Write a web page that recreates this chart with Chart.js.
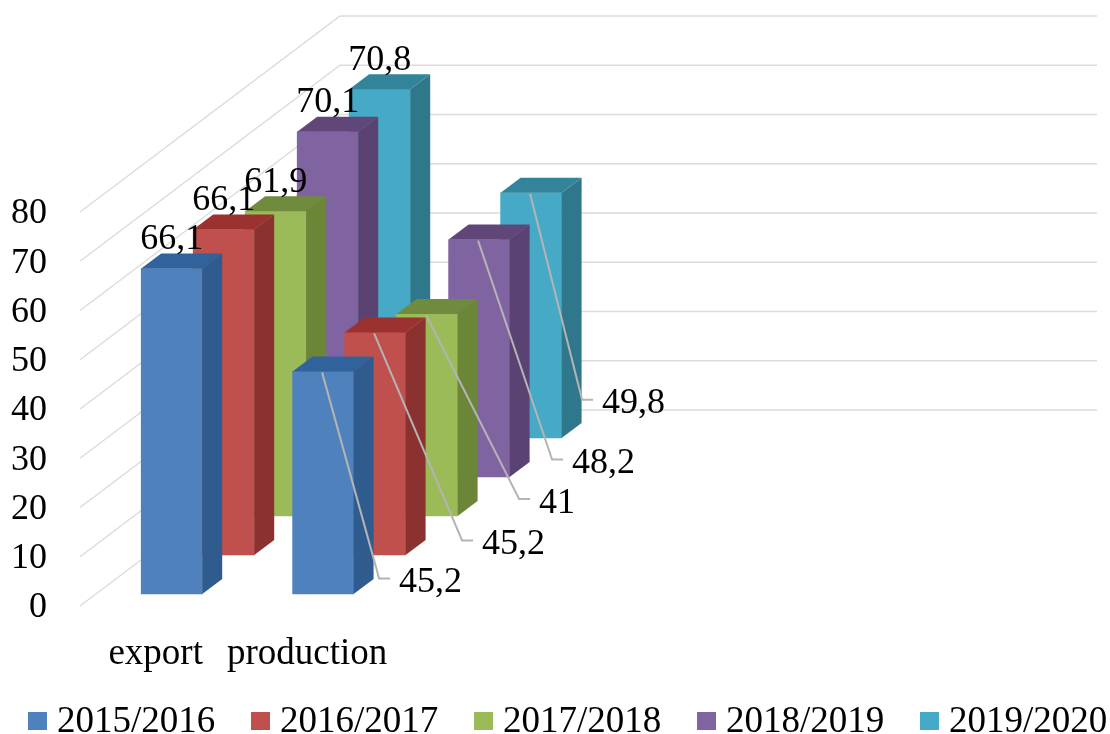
<!DOCTYPE html>
<html>
<head>
<meta charset="utf-8">
<title>export and production</title>
<script src="https://cdn.jsdelivr.net/npm/chart.js@4/dist/chart.umd.min.js"></script>
<style>
body { margin:0; background:#fff; }
#wrap { position:relative; width:1110px; height:734px; overflow:hidden; }
#legend { position:absolute; left:28px; top:699px; display:flex; font:37px "Liberation Serif",serif; line-height:42px; color:#000; }
#legend div { width:223px; display:flex; align-items:center; white-space:nowrap; }
#legend i { display:block; width:19px; height:18px; margin-right:10px; margin-top:2px; }
</style>
</head>
<body>
<div id="wrap">
<canvas id="chart" width="1110" height="734"></canvas>
<div id="legend"></div>
</div>
<script>
const categories = ['export','production','','',''];
const seriesNames = ['2015/2016','2016/2017','2017/2018','2018/2019','2019/2020'];

const values2015 = [66.1,45.2];
const values2016 = [66.1,45.2];
const values2017 = [61.9,41];
const values2018 = [70.1,48.2];
const values2019 = [70.8,49.8];
const seriesValues = [values2015,values2016,values2017,values2018,values2019];

const frontColors = ['#4f81bd','#c0504d','#9bbb59','#8064a2','#46aac6'];
const sideColors = ['#2f5b8e','#8b3231','#6c8638','#5a4272','#2f788c'];
const topColors = ['#30629b','#9c3230','#708a3e','#604679','#318499'];

// fake depth: every series sits further back on the floor
const stepX = 52, stepY = 39;
const startX = 16, startY = 12;
const depthX = 20, depthY = 15;
const wallX = 260, wallY = 196;

// production labels are pulled out with leader lines
const elbowX = [56,87,92,73,51];
const elbowY = [207,208,185,220,207];

const labelFont = '36px "Liberation Serif"';

function shiftX(i) { return startX + stepX*i; }
function shiftY(i) { return -(startY + stepY*i); }
function fmt(v) { return String(v).replace('.',','); }

const walls = {
    id:'walls',
    beforeDatasetsDraw(chart) {
        const ctx = chart.ctx, a = chart.chartArea;
        ctx.save();
        ctx.strokeStyle = '#dcdcdc';
        ctx.lineWidth = 1.5;
        chart.scales.y.ticks.forEach(t => {
            const p = chart.scales.y.getPixelForValue(t.value);
            ctx.beginPath();
            ctx.moveTo(a.left,p);
            ctx.lineTo(a.left+wallX,p-wallY);
            ctx.lineTo(a.right+wallX,p-wallY);
            ctx.stroke();
        });
        ctx.restore();
    }
};

const bars3d = {
    id:'bars3d',
    beforeDatasetDraw(chart,args) {
        chart.ctx.save();
        chart.ctx.translate(shiftX(args.index),shiftY(args.index));
    },
    afterDatasetDraw(chart,args) {
        const ctx = chart.ctx;
        args.meta.data.forEach(el => {
            if (el.skip) return;
            const r = el.x+el.width/2, l = el.x-el.width/2;
            ctx.fillStyle = sideColors[args.index];
            ctx.beginPath();
            ctx.moveTo(r,el.y);
            ctx.lineTo(r+depthX,el.y-depthY);
            ctx.lineTo(r+depthX,el.base-depthY);
            ctx.lineTo(r,el.base);
            ctx.closePath();
            ctx.fill();
            ctx.fillStyle = topColors[args.index];
            ctx.beginPath();
            ctx.moveTo(l,el.y);
            ctx.lineTo(l+depthX,el.y-depthY);
            ctx.lineTo(r+depthX,el.y-depthY);
            ctx.lineTo(r,el.y);
            ctx.closePath();
            ctx.fill();
        });
        ctx.restore();
    }
};

const valueLabels = {
    id:'valueLabels',
    afterDatasetsDraw(chart) {
        const ctx = chart.ctx;
        ctx.save();
        ctx.font = labelFont;
        ctx.fillStyle = '#000';
        ctx.textBaseline = 'middle';
        seriesValues.forEach((vals,i) => {
            const meta = chart.getDatasetMeta(i);
            const sx = shiftX(i), sy = shiftY(i);
            // export: above the bar
            const a = meta.data[0];
            ctx.textAlign = 'center';
            ctx.fillText(fmt(vals[0]),a.x+sx,a.y+sy-29);
            // production: leader line
            const b = meta.data[1];
            const x0 = b.x+sx-1, y0 = b.y+sy+1;
            const ex = b.x+sx+elbowX[i], ey = b.y+sy+elbowY[i];
            ctx.strokeStyle = '#b4b4b4';
            ctx.lineWidth = 2;
            ctx.beginPath();
            ctx.moveTo(x0,y0);
            ctx.lineTo(ex,ey);
            ctx.lineTo(ex+11,ey);
            ctx.stroke();
            ctx.textAlign = 'left';
            ctx.fillText(fmt(vals[1]),ex+20,ey+4);
        });
        ctx.restore();
    }
};

new Chart(document.getElementById('chart'),{
    type:'bar',
    data:{
        labels:categories,
        datasets:seriesNames.map((name,i) => ({
            label:name,
            data:seriesValues[i],
            backgroundColor:frontColors[i],
            borderWidth:0,
            grouped:false,
            barThickness:61,
            clip:false
        }))
    },
    plugins:[walls,bars3d,valueLabels],
    options:{
        responsive:false,
        animation:false,
        layout:{ padding:{ top:212, right:273, bottom:0, left:0 } },
        plugins:{
            legend:{ display:false },
            tooltip:{ enabled:false }
        },
        scales:{
            x:{
                grid:{ display:false, drawTicks:false },
                border:{ display:false },
                afterFit(s) { s.height = 128; },
                ticks:{
                    autoSkip:false,
                    maxRotation:0,
                    minRotation:0,
                    padding:26,
                    color:'#000',
                    font:{ family:'Liberation Serif', size:37 }
                }
            },
            y:{
                min:0,
                max:80,
                grid:{ display:false, drawTicks:false },
                border:{ display:false },
                afterFit(s) { s.width = 80; },
                ticks:{
                    stepSize:10,
                    padding:33,
                    labelOffset:2,
                    color:'#000',
                    font:{ family:'Liberation Serif', size:36 }
                }
            }
        }
    }
});

// legend as html, the built-in one wraps at this font size
const legend = document.getElementById('legend');
seriesNames.forEach((name,i) => {
    const item = document.createElement('div');
    const box = document.createElement('i');
    box.style.background = frontColors[i];
    item.appendChild(box);
    item.appendChild(document.createTextNode(name));
    legend.appendChild(item);
});
</script>
</body>
</html>
